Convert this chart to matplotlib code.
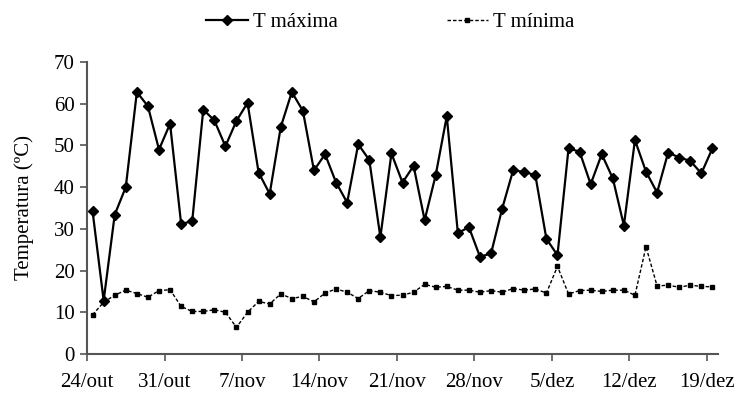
import matplotlib
matplotlib.use("Agg")
import matplotlib.pyplot as plt
import numpy as np

tick_labels = ["24/out", "31/out", "7/nov", "14/nov", "21/nov", "28/nov", "5/dez", "12/dez", "19/dez"]

t_max = [34.2, 12.8, 33.4, 40.0, 62.8, 59.4, 49.0, 55.2, 31.2, 31.8,
         58.6, 56.0, 49.8, 55.9, 60.2, 43.5, 38.4, 54.4, 62.8, 58.3,
         44.0, 47.9, 41.1, 36.3, 50.3, 46.5, 28.0, 48.1, 41.1, 45.1,
         32.1, 42.9, 57.0, 29.0, 30.4, 23.3, 24.1, 34.8, 44.1, 43.6,
         42.9, 27.6, 23.7, 49.3, 48.5, 40.7, 47.9, 42.1, 30.8, 51.3,
         43.7, 38.7, 48.3, 47.1, 46.3, 43.3, 49.3]

t_min = [9.4, 12.4, 14.1, 15.3, 14.5, 13.6, 15.2, 15.4, 11.4, 10.2,
         10.2, 10.6, 10.0, 6.4, 10.0, 12.6, 12.0, 14.4, 13.3, 13.8,
         12.5, 14.6, 15.6, 14.8, 13.3, 15.2, 14.8, 14.0, 14.1, 14.8,
         16.7, 16.0, 16.2, 15.3, 15.3, 14.8, 15.2, 14.8, 15.7, 15.3,
         15.6, 14.6, 21.0, 14.4, 15.2, 15.3, 15.0, 15.3, 15.3, 14.1,
         25.7, 16.3, 16.5, 16.0, 16.5, 16.2, 16.1]

plt.rcParams['font.family'] = ['Liberation Serif', 'DejaVu Serif']

fig = plt.figure(figsize=(7.44, 4.0), dpi=100)
ax = fig.add_axes([0.117, 0.115, 0.848, 0.73])

days = np.arange(len(t_max)) + 0.5
ax.plot(days, t_max, color='black', lw=1.6, marker='D', ms=5,
        label='T máxima')
ax.plot(days, t_min, color='black', lw=1.0, ls=(0, (2.5, 1.5)), marker='s',
        ms=3.4, label='T mínima')

ax.set_xlim(0, 57)
ax.set_ylim(0, 70)
ax.set_xticks(np.arange(len(tick_labels)) * 7)
ax.set_xticklabels(tick_labels)
ax.set_yticks(np.arange(0, 71, 10))

for s in ['top', 'right']:
    ax.spines[s].set_visible(False)
for s in ['left', 'bottom']:
    ax.spines[s].set_color('#555555')
    ax.spines[s].set_linewidth(1.5)
ax.tick_params(axis='both', colors='#555555', labelcolor='black',
               labelsize=15, length=5, width=1.2, direction='out')
ax.tick_params(axis='x', pad=9)
ax.tick_params(axis='y', pad=4)
ax.set_ylabel('Temperatura (ºC)', fontsize=15, labelpad=14)

leg = fig.legend(loc='upper center', bbox_to_anchor=(0.525, 1.015), ncol=2,
                 frameon=False, fontsize=15, handlelength=2.0,
                 columnspacing=5.2, handletextpad=0.25)

fig.savefig('out.png', dpi=100)
